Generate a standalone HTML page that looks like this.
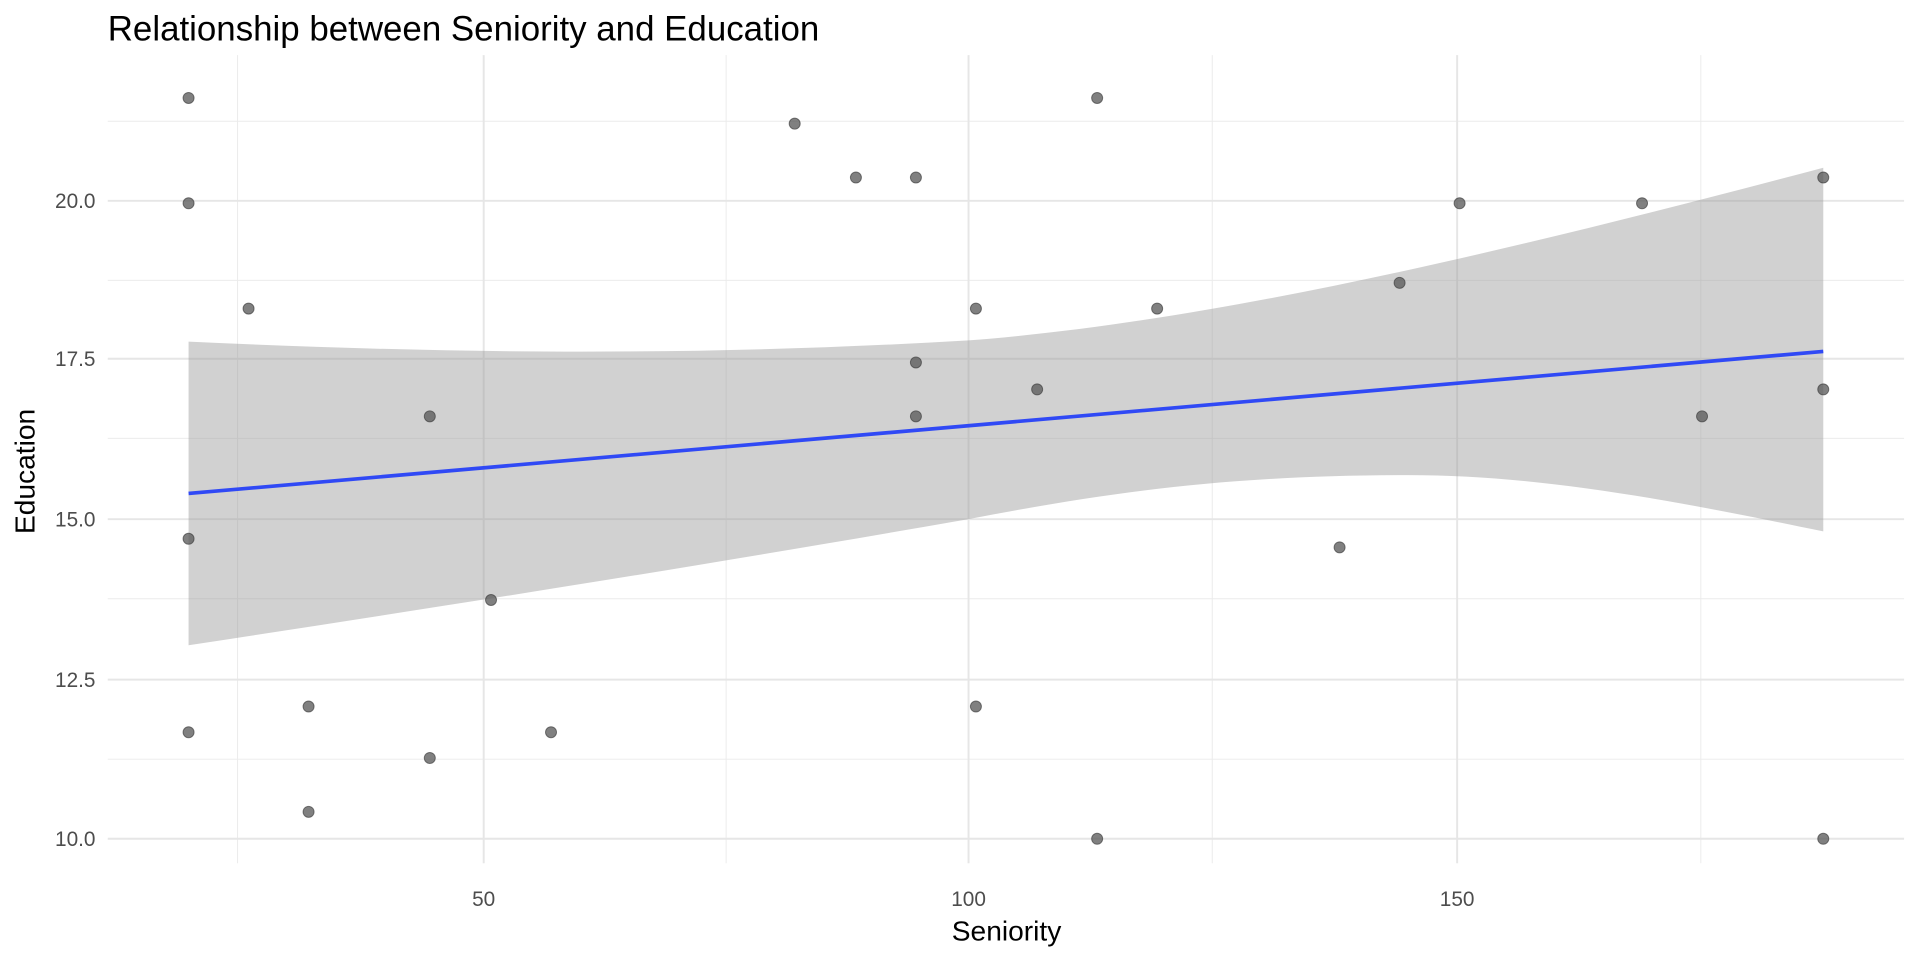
<!DOCTYPE html>
<html><head><style>
html,body{margin:0;padding:0;background:#fff;}
svg{display:block;}
text{font-family:"Liberation Sans",Arial,sans-serif;}
</style></head><body>
<svg width="1920" height="960" viewBox="0 0 1568 784" xmlns="http://www.w3.org/2000/svg">
<rect width="1568" height="784" fill="#fff"/>
<g stroke="#ebebeb" stroke-width="0.8">
<line x1="88" x2="1555" y1="620" y2="620"/>
<line x1="88" x2="1555" y1="489" y2="489"/>
<line x1="88" x2="1555" y1="358" y2="358"/>
<line x1="88" x2="1555" y1="229" y2="229"/>
<line x1="88" x2="1555" y1="99" y2="99"/>
<line x1="194" x2="194" y1="45" y2="705"/>
<line x1="593" x2="593" y1="45" y2="705"/>
<line x1="990" x2="990" y1="45" y2="705"/>
<line x1="1389" x2="1389" y1="45" y2="705"/>
</g>
<g stroke="#e6e6e6" stroke-width="1.6">
<line x1="88" x2="1555" y1="685" y2="685"/>
<line x1="88" x2="1555" y1="555" y2="555"/>
<line x1="88" x2="1555" y1="424" y2="424"/>
<line x1="88" x2="1555" y1="293" y2="293"/>
<line x1="88" x2="1555" y1="164" y2="164"/>
<line x1="395" x2="395" y1="45" y2="705"/>
<line x1="791" x2="791" y1="45" y2="705"/>
<line x1="1190" x2="1190" y1="45" y2="705"/>
</g>
<path fill="#999" fill-opacity="0.45" d="M154,279 C350,288 550,292 791,278 C1000,262 1250,200 1489,137 L1489,434 C1350,405 1250,388 1150,388 C1000,388 900,403 791,424 C550,466 350,497 154,527 Z"/>
<g fill="#555" fill-opacity="0.75" stroke="#333" stroke-opacity="0.6" stroke-width="0.8">
<circle cx="154" cy="80" r="4.5"/><circle cx="154" cy="166" r="4.5"/><circle cx="154" cy="440" r="4.5"/><circle cx="154" cy="598" r="4.5"/>
<circle cx="203" cy="252" r="4.5"/><circle cx="252" cy="577" r="4.5"/><circle cx="252" cy="663" r="4.5"/><circle cx="351" cy="340" r="4.5"/>
<circle cx="351" cy="619" r="4.5"/><circle cx="401" cy="490" r="4.5"/><circle cx="450" cy="598" r="4.5"/><circle cx="649" cy="101" r="4.5"/>
<circle cx="699" cy="145" r="4.5"/><circle cx="748" cy="145" r="4.5"/><circle cx="748" cy="296" r="4.5"/><circle cx="748" cy="340" r="4.5"/>
<circle cx="797" cy="252" r="4.5"/><circle cx="797" cy="577" r="4.5"/><circle cx="847" cy="318" r="4.5"/><circle cx="896" cy="80" r="4.5"/>
<circle cx="896" cy="685" r="4.5"/><circle cx="945" cy="252" r="4.5"/><circle cx="1094" cy="447" r="4.5"/><circle cx="1143" cy="231" r="4.5"/>
<circle cx="1192" cy="166" r="4.5"/><circle cx="1341" cy="166" r="4.5"/><circle cx="1390" cy="340" r="4.5"/><circle cx="1489" cy="145" r="4.5"/>
<circle cx="1489" cy="318" r="4.5"/><circle cx="1489" cy="685" r="4.5"/>
</g>
<line x1="154" y1="403" x2="1489" y2="287" stroke="#3049f5" stroke-width="3"/>
<g fill="#4d4d4d" font-size="17" text-anchor="end">
<text x="78" y="691">10.0</text><text x="78" y="561">12.5</text><text x="78" y="430">15.0</text><text x="78" y="299">17.5</text><text x="78" y="170">20.0</text>
</g>
<g fill="#4d4d4d" font-size="17" text-anchor="middle">
<text x="395" y="740">50</text><text x="791" y="740">100</text><text x="1190" y="740">150</text>
</g>
<text x="822" y="768" font-size="23" text-anchor="middle" fill="#000">Seniority</text>
<text transform="translate(28,385) rotate(-90)" font-size="23" text-anchor="middle" fill="#000">Education</text>
<text x="88" y="33" font-size="28.5" fill="#000">Relationship between Seniority and Education</text>
</svg>
</body></html>
